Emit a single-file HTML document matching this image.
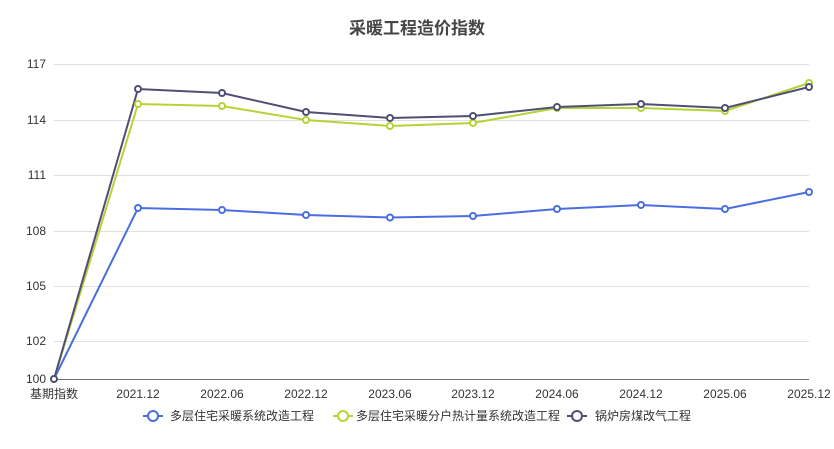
<!DOCTYPE html>
<html><head><meta charset="utf-8"><style>
body{margin:0;background:#fff;}
text{font-family:"Liberation Sans","Noto Sans CJK SC",sans-serif;}
</style></head><body>
<svg width="834" height="444" xmlns="http://www.w3.org/2000/svg">
<text x="417" y="34" text-anchor="middle" font-size="17" font-weight="bold" fill="#464646">采暖工程造价指数</text>
<g stroke="#e0e0e0" stroke-width="1">
<line x1="54" x2="809" y1="64.5" y2="64.5"/>
<line x1="54" x2="809" y1="120.5" y2="120.5"/>
<line x1="54" x2="809" y1="175.5" y2="175.5"/>
<line x1="54" x2="809" y1="231.5" y2="231.5"/>
<line x1="54" x2="809" y1="286.5" y2="286.5"/>
<line x1="54" x2="809" y1="341.5" y2="341.5"/>
</g>
<line x1="54" x2="809" y1="379.5" y2="379.5" stroke="#6e7079"/>
<g font-size="12" fill="#333" text-anchor="end">
<text x="46" y="68">117</text><text x="46" y="124">114</text><text x="46" y="179">111</text>
<text x="46" y="235">108</text><text x="46" y="290">105</text><text x="46" y="345">102</text><text x="46" y="383">100</text>
</g>
<g font-size="12" fill="#333" text-anchor="middle">
<text x="54" y="398">基期指数</text><text x="138" y="398">2021.12</text><text x="222" y="398">2022.06</text>
<text x="306" y="398">2022.12</text><text x="390" y="398">2023.06</text><text x="473" y="398">2023.12</text>
<text x="557" y="398">2024.06</text><text x="641" y="398">2024.12</text><text x="725" y="398">2025.06</text>
<text x="809" y="398">2025.12</text>
</g>
<g fill="none" stroke-width="2">
<polyline stroke="#4a6ee0" points="54,379 138,208 222,210 306,215 390,217.5 473,216 557,209 641,205 725,209 809,192"/>
<polyline stroke="#b5d334" points="54,379 138,104 222,106 306,120 390,126 473,123 557,108 641,108 725,111 809,83"/>
<polyline stroke="#4f4f73" points="54,379 138,89 222,93 306,112 390,118 473,116 557,107 641,104 725,108 809,87"/>
</g>
<g fill="#fff" stroke-width="2">
<g stroke="#4a6ee0"><circle cx="138" cy="208" r="3"/><circle cx="222" cy="210" r="3"/><circle cx="306" cy="215" r="3"/><circle cx="390" cy="217.5" r="3"/><circle cx="473" cy="216" r="3"/><circle cx="557" cy="209" r="3"/><circle cx="641" cy="205" r="3"/><circle cx="725" cy="209" r="3"/><circle cx="809" cy="192" r="3"/></g>
<g stroke="#b5d334"><circle cx="138" cy="104" r="3"/><circle cx="222" cy="106" r="3"/><circle cx="306" cy="120" r="3"/><circle cx="390" cy="126" r="3"/><circle cx="473" cy="123" r="3"/><circle cx="557" cy="108" r="3"/><circle cx="641" cy="108" r="3"/><circle cx="725" cy="111" r="3"/><circle cx="809" cy="83" r="3"/></g>
<g stroke="#4f4f73"><circle cx="54" cy="379" r="3"/><circle cx="138" cy="89" r="3"/><circle cx="222" cy="93" r="3"/><circle cx="306" cy="112" r="3"/><circle cx="390" cy="118" r="3"/><circle cx="473" cy="116" r="3"/><circle cx="557" cy="107" r="3"/><circle cx="641" cy="104" r="3"/><circle cx="725" cy="108" r="3"/><circle cx="809" cy="87" r="3"/></g>
</g>
<g stroke-width="2" fill="#fff" font-size="12">
<line x1="143" x2="163" y1="416" y2="416" stroke="#4a6ee0"/><circle cx="153" cy="416" r="5" stroke="#4a6ee0"/>
<text x="170" y="420" fill="#333" stroke="none">多层住宅采暖系统改造工程</text>
<line x1="333" x2="353" y1="416" y2="416" stroke="#b5d334"/><circle cx="343" cy="416" r="5" stroke="#b5d334"/>
<text x="356" y="420" fill="#333" stroke="none">多层住宅采暖分户热计量系统改造工程</text>
<line x1="567" x2="587" y1="416" y2="416" stroke="#4f4f73"/><circle cx="577" cy="416" r="5" stroke="#4f4f73"/>
<text x="595" y="420" fill="#333" stroke="none">锅炉房煤改气工程</text>
</g>
</svg>
</body></html>
